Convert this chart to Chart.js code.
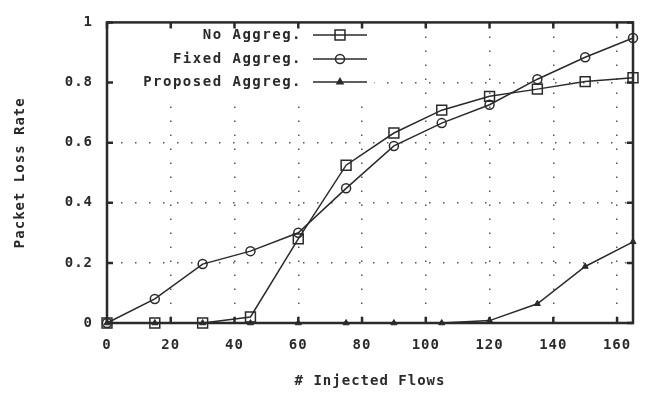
<!DOCTYPE html>
<html>
<head>
<meta charset="utf-8">
<script src="https://cdn.jsdelivr.net/npm/chart.js@4/dist/chart.umd.min.js"></script>
<style>
  html, body { margin: 0; padding: 0; background: #fff; }
  #wrap { width: 648px; height: 394px; }
</style>
</head>
<body>
<div id="wrap"><canvas id="myChart" width="648" height="394"></canvas></div>
<script>
// injected flows (x) and packet loss rate per scheme
var flows = [0, 15, 30, 45, 60, 75, 90, 105, 120, 135, 150, 165];
var noAggreg = [0, 0, 0, 0.02, 0.28, 0.525, 0.632, 0.708, 0.754, 0.778, 0.803, 0.816];
var fixedAggreg = [0, 0.08, 0.196, 0.239, 0.30, 0.448, 0.589, 0.665, 0.726, 0.811, 0.884, 0.948];
var proposedAggreg = [0, 0, 0, 0, 0, 0, 0, 0, 0.008, 0.064, 0.188, 0.27];
var xTicks = [0, 20, 40, 60, 80, 100, 120, 140, 160];
var yTicks = [0, 0.2, 0.4, 0.6, 0.8, 1];

var ink = '#2a2a2a';
var monoFont = 'DejaVu Sans Mono';

function pts(ys) {
    return flows.map(function (x, i) { return { x: x, y: ys[i] }; });
}

// gnuplot style frame, inward ticks and legend
var gnuplotLook = {
    id: 'gnuplotLook',
    beforeLayout: function (chart) { chart.ctx.letterSpacing = '1px'; },
    beforeDraw: function (chart) { chart.ctx.letterSpacing = '1px'; },
    beforeDatasetsDraw: function (chart) {
        // legend box hides the grid behind it
        var ctx = chart.ctx, a = chart.chartArea;
        ctx.save();
        ctx.fillStyle = '#fff';
        ctx.fillRect(a.left + 2, a.top + 2, 372 - a.left, 95 - a.top);
        ctx.restore();
    },
    afterDatasetsDraw: function (chart) {
        var ctx = chart.ctx, a = chart.chartArea;
        var xs = chart.scales.x, ys = chart.scales.y;
        ctx.save();
        ctx.strokeStyle = ink;
        ctx.lineWidth = 2.5;
        ctx.strokeRect(a.left, a.top, a.right - a.left, a.bottom - a.top);
        ctx.beginPath();
        xTicks.forEach(function (v) {
            var px = xs.getPixelForValue(v);
            ctx.moveTo(px, a.bottom); ctx.lineTo(px, a.bottom - 6);
            ctx.moveTo(px, a.top); ctx.lineTo(px, a.top + 6);
        });
        yTicks.forEach(function (v) {
            var py = ys.getPixelForValue(v);
            ctx.moveTo(a.left, py); ctx.lineTo(a.left + 6, py);
            ctx.moveTo(a.right, py); ctx.lineTo(a.right - 6, py);
        });
        ctx.stroke();

        // legend
        var rows = [35, 59, 82];
        var textRight = 302, lineL = 313, lineR = 367, mark = 340;
        ctx.font = 'bold 14px "' + monoFont + '"';
        ctx.letterSpacing = '1.5px';
        ctx.textAlign = 'right';
        ctx.textBaseline = 'middle';
        chart.data.datasets.forEach(function (ds, i) {
            var y = rows[i];
            ctx.fillStyle = ink;
            ctx.fillText(ds.label, textRight, y);
            ctx.strokeStyle = ink;
            ctx.lineWidth = 1.5;
            ctx.beginPath();
            ctx.moveTo(lineL, y); ctx.lineTo(lineR, y);
            ctx.stroke();
            ctx.fillStyle = ds.pointBackgroundColor;
            Chart.helpers.drawPoint(ctx, {
                pointStyle: ds.pointStyle,
                radius: ds.pointRadius,
                borderWidth: 1.5
            }, mark, y);
        });
        ctx.restore();
    }
};

var ctx = document.getElementById('myChart').getContext('2d');
var myChart = new Chart(ctx, {
    type: 'line',
    data: {
        datasets: [{
            label: 'No Aggreg.',
            data: pts(noAggreg),
            borderColor: ink,
            borderWidth: 1.5,
            pointStyle: 'rect',
            pointRadius: 7,
            pointBorderWidth: 1.5,
            pointBorderColor: ink,
            pointBackgroundColor: 'rgba(255,255,255,0)',
            tension: 0
        },
        {
            label: 'Fixed Aggreg.',
            data: pts(fixedAggreg),
            borderColor: ink,
            borderWidth: 1.5,
            pointStyle: 'circle',
            pointRadius: 4.5,
            pointBorderWidth: 1.5,
            pointBorderColor: ink,
            pointBackgroundColor: 'rgba(255,255,255,0)',
            tension: 0
        },
        {
            label: 'Proposed Aggreg.',
            data: pts(proposedAggreg),
            borderColor: ink,
            borderWidth: 1.5,
            pointStyle: 'triangle',
            pointRadius: 3.5,
            pointBorderWidth: 1,
            pointBorderColor: ink,
            pointBackgroundColor: ink,
            tension: 0
        }]
    },
    plugins: [gnuplotLook],
    options: {
        responsive: false,
        animation: false,
        clip: false,
        layout: { padding: { left: 0, right: 15, top: 14, bottom: 0 } },
        plugins: {
            legend: { display: false },
            tooltip: { enabled: false }
        },
        scales: {
            x: {
                type: 'linear',
                min: 0,
                max: 165,
                afterBuildTicks: function (s) { s.ticks = xTicks.map(function (v) { return { value: v }; }); },
                afterFit: function (s) { s.height = 71; },
                border: { display: false, dash: [1.5, 12.5] },
                grid: {
                    drawTicks: false,
                    lineWidth: 1.5,
                    color: function (c) { return (c.tick && (c.tick.value === 0)) ? 'rgba(0,0,0,0)' : '#555'; }
                },
                ticks: {
                    padding: 14,
                    color: ink,
                    font: { family: monoFont, size: 14, weight: 'bold' }
                },
                title: {
                    display: true,
                    text: '# Injected Flows',
                    color: ink,
                    padding: 4,
                    font: { family: monoFont, size: 14, weight: 'bold' }
                }
            },
            y: {
                min: 0,
                max: 1,
                afterBuildTicks: function (s) { s.ticks = yTicks.map(function (v) { return { value: v }; }); },
                afterFit: function (s) { s.width = 107; },
                border: { display: false, dash: [1.5, 12.5] },
                grid: {
                    drawTicks: false,
                    lineWidth: 1.5,
                    color: function (c) { return (c.tick && (c.tick.value === 0 || c.tick.value === 1)) ? 'rgba(0,0,0,0)' : '#555'; }
                },
                ticks: {
                    padding: 14,
                    color: ink,
                    font: { family: monoFont, size: 14, weight: 'bold' },
                    callback: function (v) { return String(v); }
                },
                title: {
                    display: true,
                    text: 'Packet Loss Rate',
                    color: ink,
                    padding: 12,
                    font: { family: monoFont, size: 14, weight: 'bold' }
                }
            }
        }
    }
});
</script>
</body>
</html>
